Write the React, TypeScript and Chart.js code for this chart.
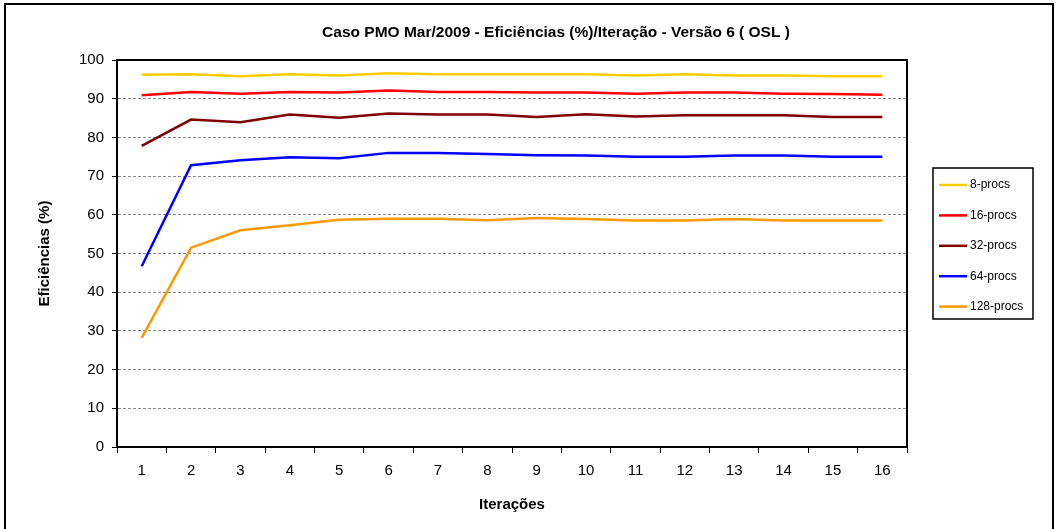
import React, { useEffect, useRef } from "react";
import { Chart, registerables } from "chart.js";

Chart.register(...registerables);

const chartTitle = "Caso PMO Mar/2009 - Eficiências (%)/Iteração - Versão 6 ( OSL )";
const xAxisTitle = "Iterações";
const yAxisTitle = "Eficiências (%)";

const iterations = ["1", "2", "3", "4", "5", "6", "7", "8", "9", "10", "11", "12", "13", "14", "15", "16"];

const seriesNames = ["8-procs", "16-procs", "32-procs", "64-procs", "128-procs"];
const seriesColors = ["#FFCC00", "#FF0000", "#800000", "#0000FF", "#FF9900"];

const eff8 = [96.2, 96.3, 95.8, 96.3, 96.0, 96.6, 96.3, 96.3, 96.3, 96.3, 96.0, 96.3, 96.0, 96.0, 95.8, 95.8];
const eff16 = [90.9, 91.7, 91.3, 91.7, 91.6, 92.1, 91.7, 91.7, 91.6, 91.6, 91.3, 91.6, 91.6, 91.3, 91.2, 91.0];
const eff32 = [77.8, 84.6, 83.9, 85.9, 85.1, 86.2, 85.9, 85.9, 85.3, 86.0, 85.4, 85.7, 85.7, 85.7, 85.3, 85.3];
const eff64 = [46.7, 72.8, 74.1, 74.9, 74.6, 76.0, 76.0, 75.7, 75.4, 75.3, 75.0, 75.0, 75.3, 75.3, 75.0, 75.0];
const eff128 = [28.2, 51.5, 56.0, 57.3, 58.7, 59.0, 59.0, 58.6, 59.2, 58.9, 58.5, 58.5, 58.9, 58.5, 58.5, 58.5];

const seriesValues = [eff8, eff16, eff32, eff64, eff128];

const yMin = 0;
const yMax = 100;
const yStep = 10;

const FONT = "'Liberation Sans', Arial, Helvetica, sans-serif";

const framePlugin = {
  id: "frame",
  beforeDraw(chart: any) {
    const { ctx, width, height } = chart;
    ctx.save();
    ctx.fillStyle = "#ffffff";
    ctx.fillRect(0, 0, width, height);
    ctx.strokeStyle = "#000000";
    ctx.lineWidth = 2;
    ctx.strokeRect(5, 4, width - 9, height + 10);
    ctx.restore();
  },
  afterDraw(chart: any) {
    const { ctx, chartArea } = chart;
    ctx.save();
    // plot area top and right border
    ctx.strokeStyle = "#000000";
    ctx.lineWidth = 2;
    ctx.beginPath();
    ctx.moveTo(chartArea.left, chartArea.top);
    ctx.lineTo(chartArea.right, chartArea.top);
    ctx.lineTo(chartArea.right, chartArea.bottom);
    ctx.stroke();

    // title
    ctx.fillStyle = "#000000";
    ctx.font = `bold 15.5px ${FONT}`;
    ctx.textAlign = "center";
    ctx.textBaseline = "middle";
    ctx.fillText(chartTitle, 556, 33);

    // legend
    const lx = 933;
    const ly = 168;
    const lw = 100;
    const lh = 151;
    ctx.lineWidth = 1.5;
    ctx.strokeStyle = "#000000";
    ctx.strokeRect(lx, ly, lw, lh);
    ctx.font = `12px ${FONT}`;
    ctx.textAlign = "left";
    chart.data.datasets.forEach((ds: any, i: number) => {
      const y = 185 + i * 30.4;
      ctx.strokeStyle = ds.borderColor;
      ctx.lineWidth = 2.5;
      ctx.beginPath();
      ctx.moveTo(939, y);
      ctx.lineTo(967, y);
      ctx.stroke();
      ctx.fillStyle = "#000000";
      ctx.fillText(ds.label, 970, y);
    });
    ctx.restore();
  },
};

export default function App() {
  const canvasRef = useRef<HTMLCanvasElement | null>(null);

  useEffect(() => {
    if (!canvasRef.current) return;
    const chart = new Chart(canvasRef.current, {
      type: "line",
      data: {
        labels: iterations,
        datasets: seriesNames.map((name, i) => ({
          label: name,
          data: seriesValues[i],
          borderColor: seriesColors[i],
          backgroundColor: seriesColors[i],
          borderWidth: 2.5,
          pointRadius: 0,
          pointHoverRadius: 0,
          tension: 0,
          fill: false,
        })),
      },
      options: {
        responsive: false,
        animation: false,
        devicePixelRatio: 1,
        layout: { padding: { top: 60, right: 150, left: 0, bottom: 0 } },
        plugins: {
          legend: { display: false },
          title: { display: false },
          tooltip: { enabled: false },
        },
        scales: {
          x: {
            type: "category",
            offset: true,
            afterFit: (scale: any) => {
              scale.height = 82;
            },
            grid: {
              offset: true,
              drawOnChartArea: false,
              drawTicks: true,
              tickLength: 6,
              tickColor: "#000000",
              tickWidth: 1,
              color: "#000000",
            },
            border: { display: true, color: "#000000", width: 2 },
            ticks: {
              color: "#000000",
              font: { family: FONT, size: 15 },
              padding: 9,
              maxRotation: 0,
              autoSkip: false,
            },
            title: {
              display: true,
              text: xAxisTitle,
              color: "#000000",
              font: { family: FONT, size: 15, weight: "bold" },
              padding: { top: 0, bottom: 15 },
            },
          },
          y: {
            min: yMin,
            max: yMax,
            afterFit: (scale: any) => {
              scale.width = 117;
            },
            grid: {
              color: (ctx: any) =>
                ctx.tick && (ctx.tick.value === yMin || ctx.tick.value === yMax)
                  ? "rgba(0,0,0,0)"
                  : "#8c8c8c",
              lineWidth: 1,
              drawTicks: true,
              tickLength: 5,
              tickColor: "#000000",
              tickWidth: 1,
            },
            border: { display: true, color: "#000000", width: 2, dash: [3, 2] },
            ticks: {
              stepSize: yStep,
              color: "#000000",
              font: { family: FONT, size: 15 },
              padding: 8,
            },
            title: {
              display: true,
              text: yAxisTitle,
              color: "#000000",
              font: { family: FONT, size: 15, weight: "bold" },
              padding: { top: 36, bottom: 0 },
            },
          },
        },
      },
      plugins: [framePlugin],
    });
    return () => chart.destroy();
  }, []);

  return (
    <div style={{ position: "absolute", left: 0, top: 0, width: 1057, height: 529, background: "#fff" }}>
      <canvas ref={canvasRef} width={1057} height={529} style={{ display: "block" }} />
    </div>
  );
}
